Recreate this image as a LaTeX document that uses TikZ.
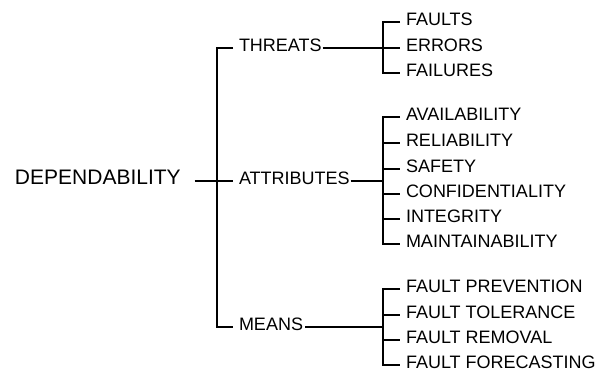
\documentclass[tikz,border=0pt]{standalone}
\usepackage{fontspec}
\setmainfont{Liberation Sans}
\begin{document}
\begin{tikzpicture}[x=1pt,y=-1pt,
  txt/.style={anchor=west,inner sep=0pt,outer sep=0pt,text height=0.716em,text depth=0pt,text=black},
  root/.style={txt,font=\fontsize{21}{24}\selectfont},
  lvl/.style={txt,font=\fontsize{18}{21}\selectfont},
  conn/.style={line width=2pt,black,line join=miter}]
\useasboundingbox (0,0) rectangle (598,372);
\node[root] (dep) at (15,181) {DEPENDABILITY};
\node[lvl] (thr) at (239,48) {THREATS};
\node[lvl] (att) at (239,181) {ATTRIBUTES};
\node[lvl] (mea) at (239,327) {MEANS};
% threats children
\node[lvl] (t1) at (406,22) {FAULTS};
\node[lvl] (t2) at (406,48) {ERRORS};
\node[lvl] (t3) at (406,73) {FAILURES};
% attributes children
\node[lvl] (a1) at (406,117) {AVAILABILITY};
\node[lvl] (a2) at (406,143) {RELIABILITY};
\node[lvl] (a3) at (406,169) {SAFETY};
\node[lvl] (a4) at (406,194) {CONFIDENTIALITY};
\node[lvl] (a5) at (406,219) {INTEGRITY};
\node[lvl] (a6) at (406,244) {MAINTAINABILITY};
% means children
\node[lvl] (m1) at (406,289) {FAULT PREVENTION};
\node[lvl] (m2) at (406,315) {FAULT TOLERANCE};
\node[lvl] (m3) at (406,340) {FAULT REMOVAL};
\node[lvl] (m4) at (406,365) {FAULT FORECASTING};
% root bus
\coordinate (rb) at ([xshift=-22pt]att.west);
\draw[conn,shorten <=14pt] (dep.east) -- ([xshift=-6pt]att.west);
\draw[conn] ([xshift=-6pt]thr.west) -| ([xshift=-22pt]mea.west) -- ([xshift=-6pt]mea.west);
% threats bus
\coordinate (tb) at ([xshift=-23pt]t1.west);
\draw[conn,shorten <=1pt] (thr.east) -- (thr.east -| tb);
\draw[conn] ([xshift=-6pt]t1.west) -| ([xshift=-23pt]t3.west) -- ([xshift=-6pt]t3.west);
\draw[conn] ([xshift=-23pt]t2.west) -- ([xshift=-6pt]t2.west);
% attributes bus
\coordinate (ab) at ([xshift=-23pt]a1.west);
\draw[conn,shorten <=1pt] (att.east) -- (att.east -| ab);
\draw[conn] ([xshift=-6pt]a1.west) -| ([xshift=-23pt]a6.west) -- ([xshift=-6pt]a6.west);
\foreach \n in {a2,a3,a4,a5}
  \draw[conn] ([xshift=-23pt]\n.west) -- ([xshift=-6pt]\n.west);
% means bus
\coordinate (mb) at ([xshift=-23pt]m1.west);
\draw[conn,shorten <=2pt] (mea.east) -- (mea.east -| mb);
\draw[conn] ([xshift=-6pt]m1.west) -| ([xshift=-23pt]m4.west) -- ([xshift=-6pt]m4.west);
\foreach \n in {m2,m3}
  \draw[conn] ([xshift=-23pt]\n.west) -- ([xshift=-6pt]\n.west);
\end{tikzpicture}
\end{document}
